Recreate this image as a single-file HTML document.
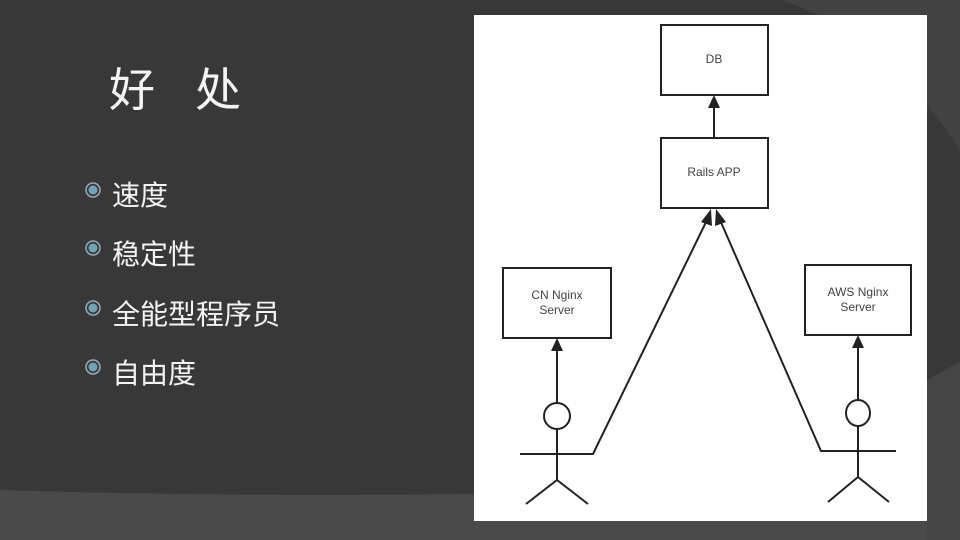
<!DOCTYPE html>
<html><head><meta charset="utf-8"><style>
html,body{margin:0;padding:0}
body{width:960px;height:540px;overflow:hidden;background:#383838;position:relative;font-family:"Liberation Sans","Noto Sans CJK SC",sans-serif}
.t{position:absolute;color:#f4f4f4}
</style></head><body>
<svg width="960" height="540" style="position:absolute;left:0;top:0">
<path d="M0,490 Q480,505 960,475 L960,540 L0,540 Z" fill="#4a4a4a"/>
<path d="M780,0 L960,0 L960,150 Q880,30 780,0 Z" fill="#424242"/>
<path d="M927,380 Q945,370 960,362 L960,540 L927,540 Z" fill="#454545"/>
<rect x="474" y="15" width="453" height="506" fill="#fff"/>
<g fill="none" stroke="#222" stroke-width="2">
<rect x="661" y="25" width="107" height="70"/>
<rect x="661" y="138" width="107" height="70"/>
<rect x="503" y="268" width="108" height="70"/>
<rect x="805" y="265" width="106" height="70"/>
<line x1="714" y1="138" x2="714" y2="105"/>
<line x1="557" y1="403" x2="557" y2="348"/>
<line x1="858" y1="400" x2="858" y2="345"/>
<circle cx="557" cy="416" r="13"/>
<ellipse cx="858" cy="413" rx="12" ry="13"/>
<line x1="557" y1="429" x2="557" y2="480"/>
<line x1="858" y1="426" x2="858" y2="477"/>
<polyline points="520,454 593,454 707,220"/>
<polyline points="896,451 821,451 720,220"/>
<polyline points="526,504 557,480 588,504"/>
<polyline points="828,502 858,477 889,502"/>
</g>
<g fill="#222">
<polygon points="714,95 708,108 720,108"/>
<polygon points="557,338 551,351 563,351"/>
<polygon points="858,335 852,348 864,348"/>
<polygon points="711,209 701,222 712,226"/>
<polygon points="716,209 715,226 726,222"/>
</g>
<g font-family="Liberation Sans, sans-serif" font-size="12" fill="#444" text-anchor="middle">
<text x="714" y="63">DB</text>
<text x="714" y="176">Rails APP</text>
<text x="557" y="299">CN Nginx</text>
<text x="557" y="314">Server</text>
<text x="858" y="296">AWS Nginx</text>
<text x="858" y="311">Server</text>
</g>
<g fill="#6fa3b5" stroke="#9ab" stroke-width="1.5">
<circle cx="93" cy="190" r="7" fill="none"/><circle cx="93" cy="190" r="4.5" stroke="none"/>
<circle cx="93" cy="248" r="7" fill="none"/><circle cx="93" cy="248" r="4.5" stroke="none"/>
<circle cx="93" cy="308" r="7" fill="none"/><circle cx="93" cy="308" r="4.5" stroke="none"/>
<circle cx="93" cy="367" r="7" fill="none"/><circle cx="93" cy="367" r="4.5" stroke="none"/>
</g>
</svg>
<div class="t" style="left:109px;top:54px;font-size:46px;letter-spacing:40px">好处</div>
<div class="t" style="left:112px;top:174px;font-size:28px">速度</div>
<div class="t" style="left:112px;top:233px;font-size:28px">稳定性</div>
<div class="t" style="left:112px;top:293px;font-size:28px">全能型程序员</div>
<div class="t" style="left:112px;top:352px;font-size:28px">自由度</div>
</body></html>
